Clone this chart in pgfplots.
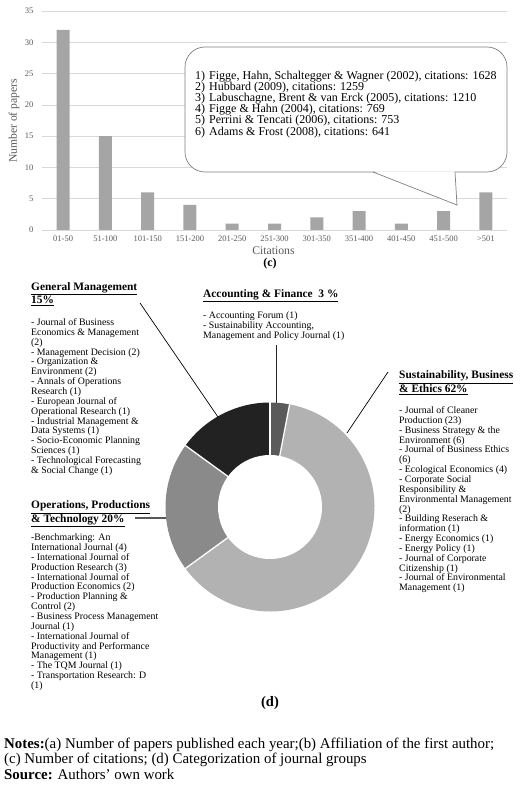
\documentclass[border=0pt]{standalone}
\usepackage{fontspec}
\setmainfont{Liberation Serif}
\usepackage{pgfplots}
\pgfplotsset{compat=1.18}

\definecolor{bargray}{HTML}{A5A5A5}
\definecolor{gridgray}{HTML}{D9D9D9}
\definecolor{ticktext}{HTML}{595959}
\definecolor{boxgray}{HTML}{7F7F7F}
\definecolor{segAF}{HTML}{5A5A5A}
\definecolor{segSBE}{HTML}{B2B2B2}
\definecolor{segOPT}{HTML}{8A8A8A}
\definecolor{segGM}{HTML}{222222}

\newcommand\listfont{\fontsize{9.85}{9.85}\selectfont}
\newcommand\headfont{\fontsize{11.4}{11}\selectfont\bfseries}
\newcommand\calloutfont{\fontsize{12}{13}\selectfont}

\newcommand\donutwedge[3]{%
  \fill[#3] (axis cs:0,0) -- (axis cs:{104.5*cos(#1)},{104.5*sin(#1)})
    arc[start angle=#1, end angle=#2, radius=104.5pt] -- cycle;}
\newcommand\donutsep[1]{%
  \draw[white, line width=1.3pt] (axis cs:0,0) -- (axis cs:{106*cos(#1)},{106*sin(#1)});}

\begin{document}
\begin{tikzpicture}[x=1pt,y=1pt]

% ---------------- (c) bar chart ----------------
\begin{axis}[
  at={(274.5pt,666.5pt)}, anchor=center, scale only axis,
  width=465pt, height=219pt,
  xmin=-0.5, xmax=10.5, ymin=0, ymax=35,
  xtick={0,...,10},
  xticklabels={01-50,51-100,101-150,151-200,201-250,251-300,301-350,351-400,401-450,451-500,>501},
  ytick={0,5,...,35},
  ymajorgrids, grid style={draw=gridgray, line width=0.6pt},
  axis x line*=bottom, axis y line*=left,
  x axis line style={draw=gridgray, line width=0.6pt},
  y axis line style={draw=none},
  major tick length=0pt,
  tick label style={font=\fontsize{8.5}{10}\selectfont, text=ticktext},
  xticklabel style={yshift=-2pt},
  yticklabel style={xshift=-5pt},
  /pgf/number format/assume math mode=true,
  clip=false,
]
\addplot[ybar, bar width=13pt, fill=bargray, draw=none] coordinates {
  (0,32) (1,15) (2,6) (3,4) (4,1) (5,1) (6,2) (7,3) (8,1) (9,3) (10,6)};
\end{axis}

\node[rotate=90, text=ticktext, font=\fontsize{11.6}{13}\selectfont] at (14,666) {Number of papers};
\node[text=ticktext, font=\fontsize{11.7}{13}\selectfont] at (273.5,536) {Citations};
\node[font=\fontsize{12}{13}\selectfont\bfseries] at (270,523) {(c)};

% callout
\draw[boxgray, line width=0.7pt, fill=white, rounded corners=20pt] (185,615) rectangle (507,740);
\fill[white] (374,615.7) -- (457,582) -- (454.9,615.7) -- cycle;
\draw[boxgray, line width=0.7pt] (373,615) -- (457,582) -- (455,615);
\begin{scope}[every node/.style={anchor=base west, inner sep=0pt, font=\calloutfont}]
\node at (195,707.9) {1)}; \node at (209,707.9) {Figge, Hahn, Schaltegger \& Wagner (2002), citations: 1628};
\node at (195,696.7) {2)}; \node at (209,696.7) {Hubbard (2009), citations: 1259};
\node at (195,685.5) {3)}; \node at (209,685.5) {Labuschagne, Brent \& van Erck (2005), citations: 1210};
\node at (195,674.3) {4)}; \node at (209,674.3) {Figge \& Hahn (2004), citations: 769};
\node at (195,663.1) {5)}; \node at (209,663.1) {Perrini \& Tencati (2006), citations: 753};
\node at (195,651.9) {6)}; \node at (209,651.9) {Adams \& Frost (2008), citations: 641};
\end{scope}

% ---------------- (d) donut ----------------
\def\pctAF{3}\def\pctSBE{62}\def\pctOPT{20}\def\pctGM{15}
\pgfmathsetmacro\aA{90}
\pgfmathsetmacro\aB{\aA-3.6*\pctAF}
\pgfmathsetmacro\aC{\aB-3.6*\pctSBE}
\pgfmathsetmacro\aD{\aC-3.6*\pctOPT}
\pgfmathsetmacro\aE{\aD-3.6*\pctGM}
\begin{axis}[
  at={(270pt,280pt)}, anchor=center, scale only axis,
  width=230pt, height=230pt,
  xmin=-115, xmax=115, ymin=-115, ymax=115,
  hide axis, clip=false,
]
\donutwedge{\aA}{\aB}{segAF}
\donutwedge{\aB}{\aC}{segSBE}
\donutwedge{\aC}{\aD}{segOPT}
\donutwedge{\aD}{\aE}{segGM}
\donutsep{\aA}\donutsep{\aB}\donutsep{\aC}\donutsep{\aD}
\fill[white] (axis cs:0,0) circle[radius=52pt];
\end{axis}

% leader lines
\draw[black, line width=0.7pt] (140,484) -- (218,370);
\draw[black!85, line width=0.7pt] (276,442) -- (276,384);
\draw[black, line width=0.7pt] (388,415) -- (347,354);
\draw[black!65, line width=1.2pt] (135,269) -- (166,269);

\begin{scope}[every node/.style={anchor=north west, inner sep=0pt, align=left}]
\node[font=\headfont] at (31,504.7) {\underline{General Management}\\\underline{15\%}};
\node[font=\listfont] at (31,468.6) {- Journal of Business\\Economics \& Management\\(2)\\- Management Decision (2)\\- Organization \&\\Environment (2)\\- Annals of Operations\\Research (1)\\- European Journal of\\Operational Research (1)\\- Industrial Management \&\\Data Systems (1)\\- Socio-Economic Planning\\Sciences (1)\\- Technological Forecasting\\\& Social Change (1)};

\node[font=\headfont] at (203,498) {\underline{Accounting \& Finance\ \ 3 \%}};
\node[font=\listfont] at (203,475.6) {- Accounting Forum (1)\\- Sustainability Accounting,\\Management and Policy Journal (1)};

\node[font=\headfont] at (399,416.2) {\underline{Sustainability, Business}\\\underline{\& Ethics 62\%}};
\node[font=\listfont] at (399,380.6) {- Journal of Cleaner\\Production (23)\\- Business Strategy \& the\\Environment (6)\\- Journal of Business Ethics\\(6)\\- Ecological Economics (4)\\- Corporate Social\\Responsibility \&\\Environmental Management\\(2)\\- Building Reserach \&\\information (1)\\- Energy Economics (1)\\- Energy Policy (1)\\- Journal of Corporate\\Citizenship (1)\\- Journal of Environmental\\Management (1)};

\node[font=\headfont] at (31,286.2) {\underline{Operations, Productions}\\\underline{\& Technology 20\%}};
\node[font=\listfont] at (31,253.3) {-Benchmarking: An\\International Journal (4)\\- International Journal of\\Production Research (3)\\- International Journal of\\Production Economics (2)\\- Production Planning \&\\Control (2)\\- Business Process Management\\Journal (1)\\- International Journal of\\Productivity and Performance\\Management (1)\\- The TQM Journal (1)\\- Transportation Research: D\\(1)};

\node[font=\fontsize{14.9}{15.5}\selectfont] at (4,49.5) {\textbf{Notes:}(a) Number of papers published each year;(b) Affiliation of the first author;\\(c) Number of citations; (d) Categorization of journal groups\\\textbf{Source:} Authors' own work};
\end{scope}

\node[font=\fontsize{14.5}{16}\selectfont\bfseries] at (270,84) {(d)};

\path (0,0) rectangle (520,787);
\end{tikzpicture}
\end{document}
